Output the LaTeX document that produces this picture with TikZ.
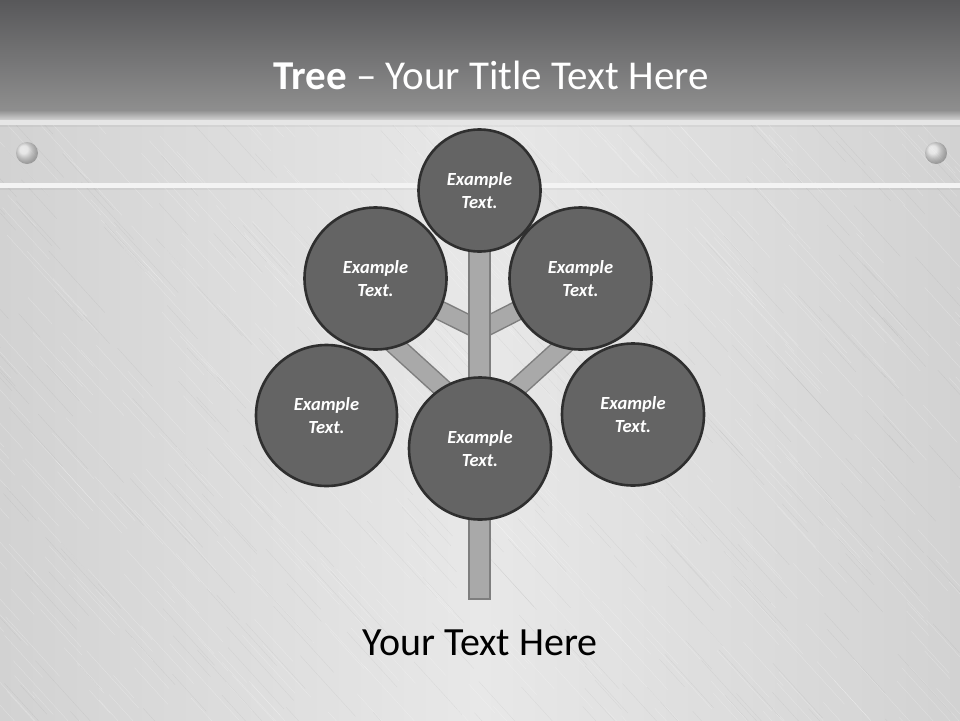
\documentclass[tikz,border=0pt]{standalone}
\usepackage{fontspec}
\setmainfont{Carlito}
\definecolor{hdrtop}{HTML}{58585A}
\definecolor{hdrbot}{HTML}{8E8E8E}
\definecolor{metal}{HTML}{D2D2D2}
\definecolor{metallight}{HTML}{E8E8E8}
\definecolor{bubble}{HTML}{646464}
\definecolor{bubbleline}{HTML}{2F2F2F}
\definecolor{wood}{HTML}{A9A9A9}
\definecolor{woodline}{HTML}{7E7E7E}
\definecolor{lineA}{HTML}{E6E6E6}
\definecolor{lineB}{HTML}{F3F3F3}
\tikzset{
  bubblenode/.style={circle, fill=bubble, draw=bubbleline, line width=2.6pt, inner sep=0pt,
    text=white, align=center, font=\fontsize{18.5}{23}\selectfont\bfseries\itshape},
  branchline/.style={draw=woodline, line width=20pt},
  branchfill/.style={draw=wood, line width=17pt},
}
\begin{document}
\begin{tikzpicture}[x=1pt,y=-1pt]
\useasboundingbox (0,0) rectangle (960,720);
% background metal
\shade[shading angle=60, left color=metal, right color=metal, middle color=metallight] (0,120) rectangle (960,720);
\begin{scope}
\clip (0,120) rectangle (960,720);
\pgfmathsetseed{11}
\foreach \i in {1,...,700}{
  \pgfmathsetmacro\xa{rnd*1400-300}
  \pgfmathsetmacro\ya{rnd*650+100}
  \pgfmathsetmacro\ln{rnd*50+20}
  \draw[white, opacity=0.28, line width=0.4pt] (\xa,\ya) -- ++(\ln,1.1*\ln);
}
\foreach \i in {1,...,400}{
  \pgfmathsetmacro\xa{rnd*1400-300}
  \pgfmathsetmacro\ya{rnd*650+100}
  \pgfmathsetmacro\ln{rnd*50+20}
  \draw[black, opacity=0.05, line width=0.4pt] (\xa,\ya) -- ++(\ln,1.1*\ln);
}
\end{scope}
% header
\shade[top color=hdrtop, bottom color=hdrbot] (0,0) rectangle (960,110);
\shade[top color=hdrbot, bottom color=metal] (0,110) rectangle (960,120);
\fill[lineA] (0,120) rectangle (960,125);
\fill[black, opacity=0.04] (0,125) rectangle (960,127);
\fill[lineB] (0,183) rectangle (960,188);
\fill[black, opacity=0.04] (0,188) rectangle (960,190);
% rivets
\foreach \rx in {27, 936}{
  \shade[ball color=white!96!black, opacity=0.55] (\rx,153) circle (11pt);
}
% title
\node[text=white, font=\fontsize{41}{48}\selectfont] (title) at (491,75) {\textbf{Tree} – Your Title Text Here};
% tree coordinates
\coordinate (ctop) at (479.5,190.5);
\coordinate (cul) at (375.5,278.5);
\coordinate (cur) at (580.5,278.5);
\coordinate (cll) at (326.5,415.5);
\coordinate (clr) at (633,414.5);
\coordinate (cmid) at (480,448.5);
\coordinate (tA) at (479.5,330);
\coordinate (tB) at (479.5,422);
\coordinate (bl) at (375,327);
\coordinate (br) at (584,327);
\coordinate (base) at (479.5,600);
% branches
\foreach \a/\b in {tA/cul, tA/cur, tB/bl, tB/br}{
  \draw[branchline] (\a) -- (\b);
}
\foreach \a/\b in {tA/cul, tA/cur, tB/bl, tB/br}{
  \draw[branchfill] (\a) -- (\b);
}
% trunk
\node[draw=woodline, fill=wood, line width=1.6pt, minimum width=21pt, minimum height=380pt, inner sep=0pt, anchor=south] (trunk) at (base) {};
% circles
\node[bubblenode, minimum size=122pt] (top) at (ctop) {Example\\Text.};
\node[bubblenode, minimum size=142pt] (ul) at (cul) {Example\\Text.};
\node[bubblenode, minimum size=142pt] (ur) at (cur) {Example\\Text.};
\node[bubblenode, minimum size=141pt] (ll) at (cll) {Example\\Text.};
\node[bubblenode, minimum size=142pt] (lr) at (clr) {Example\\Text.};
\node[bubblenode, minimum size=142pt] (mid) at (cmid) {Example\\Text.};
% bottom text
\node[text=black, font=\fontsize{40}{46}\selectfont] (caption) at (480,643) {Your Text Here};
\end{tikzpicture}
\end{document}
